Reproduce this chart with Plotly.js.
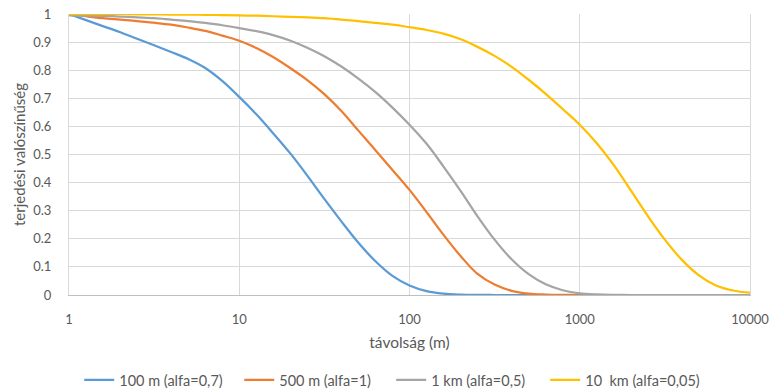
<!DOCTYPE html>
<html>
<head>
<meta charset="utf-8">
<script src="https://cdn.plot.ly/plotly-3.0.1.min.js"></script>
<style>html,body{margin:0;padding:0;background:#fff;}#chart{width:774px;height:391px;}</style>
</head>
<body>
<div id="chart"></div>
<script>
// Series names
const seriesNames = ["100 m (alfa=0,7)", "500 m (alfa=1)", "1 km (alfa=0,5)", "10\u00a0 km (alfa=0,05)"];

// Distance (m), sampled about ten times per decade
const distance = [1, 1.26, 1.58, 2, 2.51, 3.16, 3.98, 5.01, 6.31, 7.94,
                  10, 12.6, 15.8, 20, 25.1, 31.6, 39.8, 50.1, 63.1, 79.4,
                  100, 126, 158, 200, 251, 316, 398, 501, 631, 794,
                  1000, 1259, 1585, 1995, 2512, 3162, 3981, 5012, 6310, 7943, 10000];

// Values
const blue100m = [1, 0.978, 0.957, 0.935, 0.912, 0.889, 0.865, 0.84, 0.808, 0.762,
                  0.705, 0.643, 0.576, 0.503, 0.425, 0.342, 0.262, 0.186, 0.12, 0.068,
                  0.034, 0.014, 0.005, 0.0015, 0.0003, 0, 0, 0, 0, 0,
                  0, 0, 0, 0, 0, 0, 0, 0, 0, 0, 0];
const orange500m = [1, 0.992, 0.985, 0.98, 0.975, 0.969, 0.962, 0.952, 0.94, 0.923,
                    0.905, 0.879, 0.847, 0.807, 0.765, 0.715, 0.655, 0.585, 0.515, 0.445,
                    0.374, 0.295, 0.215, 0.138, 0.075, 0.037, 0.015, 0.005, 0.0015, 0.0003,
                    0, 0, 0, 0, 0, 0, 0, 0, 0, 0, 0];
const gray1km = [0.995, 0.994, 0.993, 0.991, 0.988, 0.985, 0.98, 0.975, 0.968, 0.96,
                 0.95, 0.939, 0.925, 0.905, 0.88, 0.85, 0.813, 0.77, 0.722, 0.667,
                 0.606, 0.538, 0.458, 0.37, 0.28, 0.197, 0.127, 0.074, 0.038, 0.017,
                 0.006, 0.002, 0.0005, 0, 0, 0, 0, 0, 0, 0, 0];
const yellow10km = [1, 1, 1, 1, 0.999, 0.999, 0.998, 0.998, 0.997, 0.996,
                    0.995, 0.994, 0.992, 0.99, 0.988, 0.985, 0.98, 0.975, 0.968, 0.962,
                    0.953, 0.943, 0.93, 0.91, 0.883, 0.851, 0.812, 0.766, 0.716, 0.662,
                    0.606, 0.54, 0.462, 0.372, 0.281, 0.197, 0.125, 0.07, 0.034, 0.016, 0.008];

// Axis ticks
const xTickVals = [1, 10, 100, 1000, 10000];
const xTickText = ["1", "10", "100", "1000", "10000"];
const yTickVals = [0, 0.1, 0.2, 0.3, 0.4, 0.5, 0.6, 0.7, 0.8, 0.9, 1];
const yTickText = ["0", "0.1", "0.2", "0.3", "0.4", "0.5", "0.6", "0.7", "0.8", "0.9", "1"];

const colors = ["#5B9BD5", "#ED7D31", "#A5A5A5", "#FFC000"];
const values = [blue100m, orange500m, gray1km, yellow10km];
const legendWidths = [115, 107, 109, 125];

const traces = values.map((y, i) => ({
  x: distance, y: y, name: seriesNames[i], type: "scatter", mode: "lines",
  line: {color: colors[i], width: 2.25, shape: "spline", smoothing: 1},
  legendwidth: legendWidths[i]
}));

const fam = "Lato, 'Open Sans', sans-serif";
const grayText = "#595959";

const layout = {
  width: 774, height: 391,
  margin: {l: 69, r: 24, t: 14, b: 96},
  paper_bgcolor: "#fff", plot_bgcolor: "#fff",
  font: {family: fam, size: 13, color: grayText},
  showlegend: true,
  legend: {orientation: "h", x: 0.015, xanchor: "left", yref: "container", y: 0.028, yanchor: "middle",
           font: {family: fam, size: 14.5, color: grayText}, traceorder: "normal"},
  xaxis: {
    type: "log", range: [0, 4], tickvals: xTickVals, ticktext: xTickText,
    showgrid: true, gridcolor: "#d9d9d9", gridwidth: 1,
    showline: true, linecolor: "#bfbfbf", linewidth: 1,
    ticks: "outside", ticklen: 12, tickcolor: "rgba(0,0,0,0)",
    tickfont: {family: fam, size: 13, color: grayText},
    title: {text: "távolság (m)", font: {family: fam, size: 15.5, color: grayText}, standoff: 11},
    automargin: false, zeroline: false
  },
  yaxis: {
    range: [0, 1], tickvals: yTickVals, ticktext: yTickText,
    showgrid: true, gridcolor: "#d9d9d9", gridwidth: 1,
    showline: true, linecolor: "#d9d9d9", linewidth: 1, mirror: true,
    ticks: "outside", ticklen: 14, tickcolor: "rgba(0,0,0,0)",
    tickfont: {family: fam, size: 13, color: grayText},
    title: {text: "terjedési valószínűség", font: {family: fam, size: 15, color: grayText}, standoff: 3},
    automargin: false, zeroline: false
  }
};

Plotly.newPlot("chart", traces, layout, {displayModeBar: false, staticPlot: true});
</script>
</body>
</html>
